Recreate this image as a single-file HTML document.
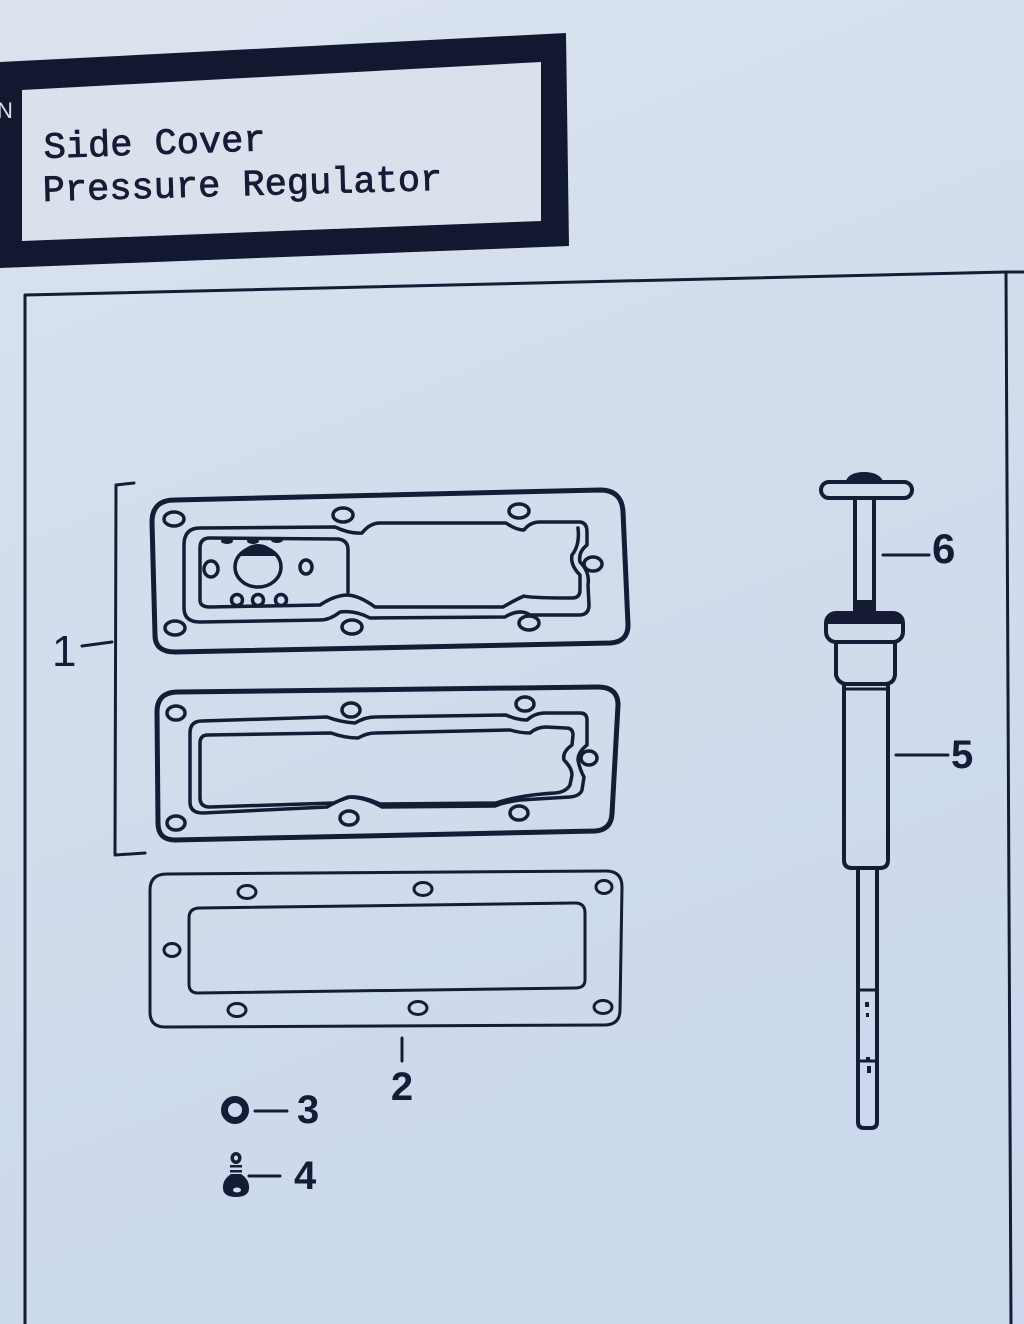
<!DOCTYPE html>
<html>
<head>
<meta charset="utf-8">
<style>
  html,body{margin:0;padding:0;width:1024px;height:1324px;overflow:hidden;background:#d1ddec;}
  svg{display:block;}
  .ink{stroke:#161b36;fill:none;stroke-linecap:round;stroke-linejoin:round;}
  .lbl{font-family:"Liberation Sans",sans-serif;font-weight:bold;fill:#161b36;}
</style>
</head>
<body>
<svg width="1024" height="1324" viewBox="0 0 1024 1324" xmlns="http://www.w3.org/2000/svg">
  <defs>
    <linearGradient id="bg" x1="0" y1="0" x2="0.3" y2="1">
      <stop offset="0" stop-color="#dbe3ee"/>
      <stop offset="0.4" stop-color="#d3deed"/>
      <stop offset="1" stop-color="#ccd9ec"/>
    </linearGradient>
  </defs>
  <rect x="0" y="0" width="1024" height="1324" fill="url(#bg)"/>

  <!-- Title box -->
  <polygon points="0,62 566,33 569,246 0,268" fill="#121830"/>
  <polygon points="22,90 541,62 541,221 22,241" fill="#d9e1ed"/>
  <text x="-3" y="118" font-family="Liberation Sans,sans-serif" font-size="22" fill="#d9e1ed">N</text>
  <g font-family="Liberation Mono, monospace" font-size="37" fill="#161b36" stroke="#161b36" stroke-width="0.8">
    <text x="44" y="158" transform="rotate(-2 44 158)">Side Cover</text>
    <text x="43" y="201" transform="rotate(-1.6 43 201)">Pressure Regulator</text>
  </g>

  <!-- page frame -->
  <polyline class="ink" stroke-width="3" points="25,1324 25,295 1006,272 1024,272"/>
  <line class="ink" stroke-width="3" x1="1006" y1="272" x2="1011" y2="1324"/>

  <!-- bracket and label 1 -->
  <polyline class="ink" stroke-width="3" points="134,483 116,485 115,855 145,853"/>
  <line class="ink" stroke-width="3" x1="82" y1="646" x2="112" y2="642"/>
  <text x="52" y="666" font-family="Liberation Sans,sans-serif" font-size="44" fill="#161b36">1</text>

  <!-- Gasket 1 (cover) -->
  <path class="ink" stroke-width="5" d="M152,522 Q152,500 175,500 L600,490 Q622,490 623,512 L628,625 Q628,642 610,643 L175,652 Q155,652 155,635 Z"/>
  <g class="ink" stroke-width="3.5">
    <ellipse cx="174" cy="519" rx="10" ry="7"/>
    <ellipse cx="343" cy="515" rx="10" ry="7"/>
    <ellipse cx="519" cy="511" rx="10" ry="7"/>
    <ellipse cx="593" cy="564" rx="9" ry="7"/>
    <ellipse cx="529" cy="623" rx="10" ry="7"/>
    <ellipse cx="352" cy="627" rx="10" ry="7"/>
    <ellipse cx="175" cy="628" rx="10" ry="7"/>
  </g>
  <path class="ink" stroke-width="3.5" d="M184,545 Q184,528 200,528 L335,527 Q350,534 362,533 Q370,523 380,523 L506,523 Q516,530 524,530 Q530,522 540,522 L579,522 Q587,522 587,532 L587,545 Q578,552 580,562 Q590,572 588,585 L589,605 Q589,615 579,615 L530,615 Q520,608 505,617 L370,618 Q355,610 340,612 Q330,620 320,620 L200,622 Q184,622 184,608 Z"/>
  <path class="ink" stroke-width="3.5" d="M348,592 L348,550 Q348,540 338,539 L210,538 Q200,538 200,548 L200,600 Q200,607 210,607 L320,605 Q335,595 348,595 Q360,596 375,607 L503,607 Q515,600 524,596 Q530,598 572,598 Q580,598 580,590 L580,575 Q570,565 572,555 Q580,545 578,528"/>
  <g fill="#161b36">
    <ellipse cx="227" cy="541" rx="6" ry="3"/>
    <ellipse cx="253" cy="541" rx="6" ry="3"/>
    <ellipse cx="277" cy="540" rx="6" ry="3"/>
    <path d="M240,556 Q246,544 258,544 Q270,544 276,556 Z"/>
  </g>
  <g class="ink" stroke-width="3.5">
    <ellipse cx="211" cy="569" rx="7" ry="8"/>
    <ellipse cx="258" cy="567" rx="23" ry="20"/>
    <ellipse cx="306" cy="567" rx="6" ry="7"/>
    <circle cx="237" cy="600" r="5.5"/>
    <circle cx="258" cy="600" r="5.5"/>
    <circle cx="281" cy="600" r="5.5"/>
  </g>

  <!-- Gasket 2 -->
  <path class="ink" stroke-width="5" d="M157,712 Q157,692 178,692 L598,687 Q618,687 618,705 L612,814 Q611,830 595,831 L175,840 Q158,840 158,823 Z"/>
  <g class="ink" stroke-width="3.5">
    <ellipse cx="176" cy="713" rx="9" ry="7"/>
    <ellipse cx="351" cy="710" rx="9" ry="7"/>
    <ellipse cx="525" cy="704" rx="9" ry="7"/>
    <ellipse cx="589" cy="758" rx="8" ry="7"/>
    <ellipse cx="519" cy="813" rx="9" ry="7"/>
    <ellipse cx="349" cy="818" rx="9" ry="7"/>
    <ellipse cx="176" cy="823" rx="9" ry="7"/>
  </g>
  <path class="ink" stroke-width="3.5" d="M190,733 Q190,721 202,721 L327,717 Q340,722 355,723 Q365,717 375,717 L506,715 Q517,720 527,720 Q535,713 545,713 L580,713 Q587,713 587,720 L587,745 Q578,752 578,760 Q580,770 584,777 L582,790 Q580,796 570,797 L520,800 Q505,802 495,806 L382,807 Q365,797 348,797 Q335,802 327,807 L203,813 Q190,813 190,802 Z"/>
  <path class="ink" stroke-width="3.5" d="M200,743 Q200,735 208,735 L331,733 Q345,738 358,738 Q367,733 375,733 L510,730 Q520,733 530,733 Q537,727 546,727 L566,728 Q573,728 573,735 L572,745 Q562,752 564,760 Q572,768 572,775 L570,785 Q566,792 555,793 Q520,795 496,803 L380,804 Q362,796 350,797 Q340,800 334,803 L210,807 Q200,807 200,798 Z"/>

  <!-- Gasket 3 -->
  <path class="ink" stroke-width="3" d="M150,890 Q150,874 167,874 L606,871 Q622,871 622,887 L620,1010 Q620,1025 604,1025 L165,1027 Q150,1027 150,1012 Z"/>
  <path class="ink" stroke-width="3" d="M189,918 Q189,908 200,908 L575,903 Q585,903 585,913 L585,980 Q585,988 575,988 L198,993 Q189,993 189,984 Z"/>
  <g class="ink" stroke-width="3">
    <ellipse cx="247" cy="892" rx="9" ry="6.5"/>
    <ellipse cx="423" cy="889" rx="9" ry="6.5"/>
    <ellipse cx="604" cy="887" rx="8" ry="6.5"/>
    <ellipse cx="172" cy="950" rx="8" ry="6.5"/>
    <ellipse cx="237" cy="1010" rx="9" ry="6.5"/>
    <ellipse cx="418" cy="1008" rx="9" ry="6.5"/>
    <ellipse cx="603" cy="1007" rx="9" ry="6.5"/>
  </g>
  <line class="ink" stroke-width="3" x1="402" y1="1038" x2="402" y2="1061"/>
  <text class="lbl" x="402" y="1100" font-size="40" text-anchor="middle">2</text>

  <!-- Part 3 -->
  <circle cx="235" cy="1110" r="10.5" stroke="#161b36" stroke-width="7" fill="none"/>
  <line class="ink" stroke-width="3" x1="255" y1="1111" x2="287" y2="1111"/>
  <text class="lbl" x="297" y="1123" font-size="40">3</text>

  <!-- Part 4 -->
  <g fill="#161b36">
    <ellipse cx="236" cy="1158" rx="5.5" ry="6"/>
    <rect x="230" y="1165" width="12" height="2.5"/>
    <rect x="230" y="1170" width="12" height="2.5"/>
    <path d="M231,1174 L241,1174 Q250,1180 249,1189 Q248,1197 236,1197 Q224,1197 223,1189 Q222,1180 231,1174 Z"/>
  </g>
  <ellipse cx="236" cy="1158" rx="2" ry="2.5" fill="#d0dcec"/>
  <ellipse cx="237" cy="1190" rx="4" ry="2.5" fill="#d0dcec"/>
  <line class="ink" stroke-width="3" x1="249" y1="1176" x2="280" y2="1176"/>
  <text class="lbl" x="294" y="1189" font-size="40">4</text>

  <!-- Regulator (parts 5 & 6) -->
  <path d="M845,483 Q848,472 864,472 Q880,472 884,483 Z" fill="#161b36"/>
  <rect x="821" y="482" width="91" height="16" rx="8" class="ink" stroke-width="4"/>
  <line class="ink" stroke-width="4" x1="855" y1="499" x2="855" y2="614"/>
  <line class="ink" stroke-width="4" x1="874" y1="499" x2="874" y2="614"/>
  <rect x="826" y="613" width="77" height="29" rx="10" class="ink" stroke-width="4"/>
  <path d="M828,624 Q826,613 838,613 L892,613 Q903,613 901,624 Z" fill="#161b36"/>
  <path d="M852,615 Q855,606 855,600 L874,600 Q874,606 877,615 Z" fill="#161b36"/>
  <path class="ink" stroke-width="4" d="M836,642 L836,675 Q838,683 846,684 L886,684 Q894,683 895,675 L895,642"/>
  <line class="ink" stroke-width="3" x1="846" y1="689" x2="886" y2="689"/>
  <path class="ink" stroke-width="4" d="M844,684 L844,860 Q844,868 852,868 L880,868 Q888,868 888,860 L888,684"/>
  <path class="ink" stroke-width="4" d="M858,868 L858,1122 Q858,1128 864,1128 L871,1128 Q877,1128 877,1122 L877,868"/>
  <line class="ink" stroke-width="3" x1="859" y1="990" x2="876" y2="990"/>
  <line class="ink" stroke-width="3" x1="859" y1="1061" x2="876" y2="1061"/>
  <g fill="#161b36">
    <rect x="865" y="1002" width="4" height="5"/>
    <rect x="866" y="1013" width="3" height="4"/>
    <rect x="866" y="1057" width="4" height="5"/>
    <rect x="867" y="1066" width="4" height="7"/>
  </g>
  <line class="ink" stroke-width="3" x1="883" y1="555" x2="929" y2="555"/>
  <text class="lbl" x="932" y="563" font-size="42">6</text>
  <line class="ink" stroke-width="3" x1="896" y1="755" x2="948" y2="755"/>
  <text class="lbl" x="951" y="768" font-size="40">5</text>
</svg>
</body>
</html>
